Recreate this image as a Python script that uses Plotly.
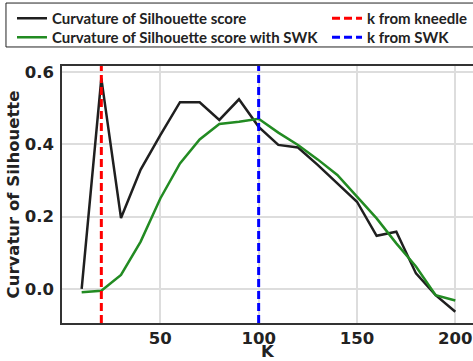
import plotly.graph_objects as go

k_values = [10, 20, 30, 40, 50, 60, 70, 80, 90, 100, 110, 120, 130, 140, 150, 160, 170, 180, 190, 200]
curv_silhouette = [0.000, 0.582, 0.196, 0.330, 0.425, 0.516, 0.516, 0.467, 0.524, 0.448,
                   0.398, 0.391, 0.343, 0.292, 0.241, 0.147, 0.158, 0.043, -0.017, -0.063]
curv_silhouette_swk = [-0.009, -0.005, 0.039, 0.131, 0.250, 0.347, 0.413, 0.456, 0.462, 0.470,
                       0.432, 0.398, 0.358, 0.315, 0.255, 0.195, 0.126, 0.062, -0.017, -0.032]
k_kneedle = 20
k_swk = 100
y_range = [-0.094, 0.616]
x_range = [0, 209]

fig = go.Figure()
fig.add_trace(go.Scatter(x=k_values, y=curv_silhouette, mode="lines",
                         line=dict(color="#1f1f1f", width=2.5),
                         name="Curvature of Silhouette score", legend="legend"))
fig.add_trace(go.Scatter(x=k_values, y=curv_silhouette_swk, mode="lines",
                         line=dict(color="#228B22", width=2.5),
                         name="Curvature of Silhouette score with SWK", legend="legend3"))
fig.add_trace(go.Scatter(x=[k_kneedle, k_kneedle], y=y_range, mode="lines",
                         line=dict(color="red", width=3, dash="8px,4px"),
                         name="k from kneedle", legend="legend2"))
fig.add_trace(go.Scatter(x=[k_swk, k_swk], y=y_range, mode="lines",
                         line=dict(color="blue", width=3, dash="8px,4px"),
                         name="k from SWK", legend="legend4"))

tick_font = dict(family="DejaVu Sans", size=16.5, color="#222222", weight="bold")
legend_font = dict(family="Lato", size=15, color="#222222", weight="bold")


def leg(x, y):
    return dict(orientation="v", x=x, y=y, xanchor="left", yanchor="top",
                bgcolor="rgba(0,0,0,0)", borderwidth=0, font=legend_font)


fig.update_layout(
    width=473, height=361,
    margin=dict(l=62, r=0, t=66, b=38),
    paper_bgcolor="white", plot_bgcolor="white",
    showlegend=True,
    legend=leg(-0.1217, 1.249),
    legend2=leg(0.6448, 1.249),
    legend3=leg(-0.1217, 1.175),
    legend4=leg(0.6448, 1.175),
    shapes=[dict(type="rect", xref="paper", yref="paper", x0=-0.1363, x1=1.02, y0=1.074, y1=1.245,
                 line=dict(color="#222222", width=1), fillcolor="white", layer="above")],
    xaxis=dict(range=x_range, tickvals=[50, 100, 150, 200], showgrid=True, automargin=False,
               gridcolor="#dddddd", gridwidth=1.5, showline=True, linecolor="#333333",
               linewidth=1.5, mirror=True, ticks="", ticklabelstandoff=-1,
               tickfont=tick_font, zeroline=False,
               title=dict(text="K", font=tick_font, standoff=4)),
    yaxis=dict(range=y_range, tickvals=[0.0, 0.2, 0.4, 0.6], tickformat=".1f", showgrid=True,
               automargin=False,
               gridcolor="#dddddd", gridwidth=1.5, showline=True, linecolor="#333333",
               linewidth=1.5, ticks="outside", ticklen=3, tickcolor="rgba(0,0,0,0)",
               tickfont=tick_font, zeroline=False,
               title=dict(text="Curvatur of Silhouette", font=tick_font, standoff=1)),
)

fig.write_html("out.html", config={"displayModeBar": False},
               post_script="document.body.style.margin='0';")
